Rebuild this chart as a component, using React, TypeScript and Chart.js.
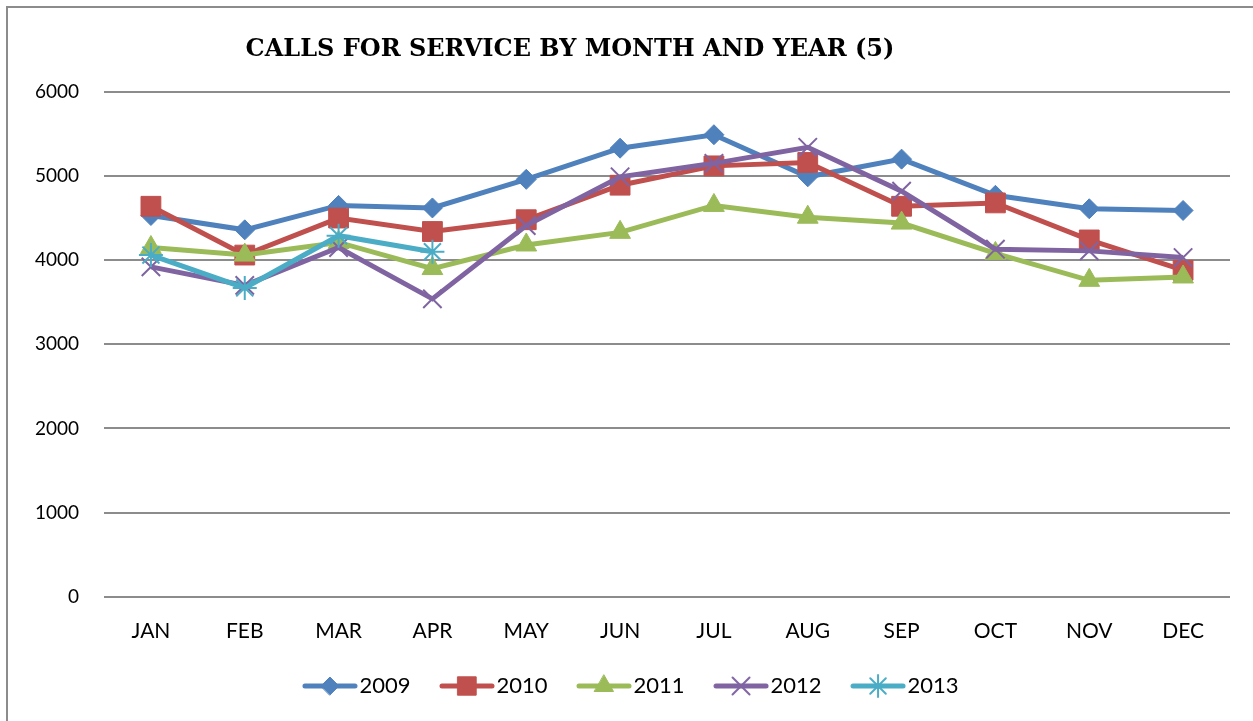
import React, { useEffect, useRef } from 'react';
import { Chart, registerables } from 'chart.js';
import { drawPoint } from 'chart.js/helpers';

Chart.register(...registerables);

const months = ['JAN', 'FEB', 'MAR', 'APR', 'MAY', 'JUN', 'JUL', 'AUG', 'SEP', 'OCT', 'NOV', 'DEC'];
const seriesNames = ['2009', '2010', '2011', '2012', '2013'];
const calls2009 = [4530, 4360, 4650, 4620, 4960, 5330, 5490, 4990, 5200, 4770, 4610, 4590];
const calls2010 = [4640, 4060, 4500, 4340, 4480, 4890, 5120, 5160, 4640, 4680, 4240, 3880];
const calls2011 = [4150, 4060, 4210, 3900, 4180, 4330, 4650, 4510, 4440, 4080, 3760, 3800];
const calls2012 = [3920, 3700, 4150, 3540, 4410, 4990, 5150, 5340, 4820, 4130, 4110, 4030];
const calls2013 = [4060, 3670, 4290, 4100, null, null, null, null, null, null, null, null];
const seriesValues = [calls2009, calls2010, calls2011, calls2012, calls2013];
const yMin = 0;
const yMax = 6000;
const yStep = 1000;
const titleText = 'CALLS FOR SERVICE BY MONTH AND YEAR (5)';

const seriesStyles = [
  { color: '#4F81BD', pointStyle: 'rectRot', radius: 10, borderWidth: 1 },
  { color: '#C0504D', pointStyle: 'rect', radius: 14, borderWidth: 1 },
  { color: '#9BBB59', pointStyle: 'triangle', radius: 12, borderWidth: 1 },
  { color: '#8064A2', pointStyle: 'crossRot', radius: 13, borderWidth: 2 },
  { color: '#4BACC6', pointStyle: 'star', radius: 12, borderWidth: 2 },
];

const axisFont = 'Lato, "Open Sans", sans-serif';
const titleFont = '"DejaVu Serif", serif';

function makeLegendSymbol(style: any) {
  const c = document.createElement('canvas');
  c.width = 56;
  c.height = 28;
  const ctx = c.getContext('2d') as CanvasRenderingContext2D;
  ctx.strokeStyle = style.color;
  ctx.lineWidth = 5;
  ctx.lineCap = 'round';
  ctx.beginPath();
  ctx.moveTo(3, 14);
  ctx.lineTo(53, 14);
  ctx.stroke();
  ctx.fillStyle = style.color;
  ctx.strokeStyle = style.color;
  ctx.lineWidth = style.borderWidth;
  drawPoint(ctx, { pointStyle: style.pointStyle, radius: style.radius - 1, borderWidth: style.borderWidth, rotation: 0 } as any, 28, 14);
  return c;
}

const frameBorder = {
  id: 'frameBorder',
  beforeDraw(chart: any) {
    const ctx = chart.ctx;
    ctx.save();
    ctx.strokeStyle = '#8c8c8c';
    ctx.lineWidth = 2;
    ctx.beginPath();
    ctx.moveTo(7, chart.height);
    ctx.lineTo(7, 7);
    ctx.lineTo(chart.width, 7);
    ctx.stroke();
    ctx.restore();
  },
};

const layoutNudge = {
  id: 'layoutNudge',
  afterLayout(chart: any) {
    const t = chart.titleBlock;
    if (t) {
      t.left -= 45;
      t.right -= 45;
    }
    const l = chart.legend;
    if (l) {
      l.left += 20;
      l.right += 20;
      l.top -= 29;
      l.bottom -= 29;
    }
  },
};

export default function App() {
  const ref = useRef<HTMLCanvasElement | null>(null);
  useEffect(() => {
    document.body.style.margin = '0';
    if (!ref.current) return;
    const symbols = seriesStyles.map(makeLegendSymbol);
    const chart = new Chart(ref.current, {
      type: 'line',
      data: {
        labels: months,
        datasets: seriesNames.map((name, i) => ({
          label: name,
          data: seriesValues[i],
          borderColor: seriesStyles[i].color,
          backgroundColor: seriesStyles[i].color,
          borderWidth: 5,
          pointStyle: seriesStyles[i].pointStyle as any,
          pointRadius: seriesStyles[i].radius,
          pointHoverRadius: seriesStyles[i].radius,
          pointBorderWidth: seriesStyles[i].borderWidth,
          pointBorderColor: seriesStyles[i].color,
          pointBackgroundColor: seriesStyles[i].color,
          tension: 0,
          spanGaps: false,
          order: seriesNames.length - 1 - i,
        })),
      },
      options: {
        responsive: false,
        animation: false,
        layout: { padding: { left: 0, right: 23, top: 0, bottom: -15 } },
        scales: {
          x: {
            offset: true,
            grid: { display: false, drawTicks: false },
            border: { display: false },
            ticks: { color: '#000', padding: 22, font: { family: axisFont, size: 21 } },
          },
          y: {
            min: yMin,
            max: yMax,
            afterFit: (scale: any) => {
              scale.width = 104;
            },
            grid: { color: '#8c8c8c', lineWidth: 2, drawTicks: false },
            border: { display: false },
            ticks: {
              stepSize: yStep,
              color: '#000',
              padding: 25,
              font: { family: axisFont, size: 19 },
              callback: (v: any) => String(v),
            },
          },
        },
        plugins: {
          tooltip: { enabled: false },
          title: {
            display: true,
            text: titleText,
            color: '#000',
            font: { family: titleFont, size: 24, weight: 'bold' },
            padding: { top: 35, bottom: 28 },
          },
          legend: {
            position: 'bottom',
            labels: {
              usePointStyle: true,
              pointStyleWidth: 37,
              padding: 38,
              color: '#000',
              font: { family: axisFont, size: 22 },
              generateLabels: (c: any) => {
                const base = (Chart.defaults.plugins.legend.labels as any).generateLabels(c);
                return base
                  .sort((a: any, b: any) => a.datasetIndex - b.datasetIndex)
                  .map((item: any) => ({ ...item, pointStyle: symbols[item.datasetIndex] }));
              },
            },
          },
        },
      },
      plugins: [frameBorder, layoutNudge],
    });
    return () => chart.destroy();
  }, []);
  return <canvas ref={ref} width={1253} height={721} style={{ display: 'block' }} />;
}
